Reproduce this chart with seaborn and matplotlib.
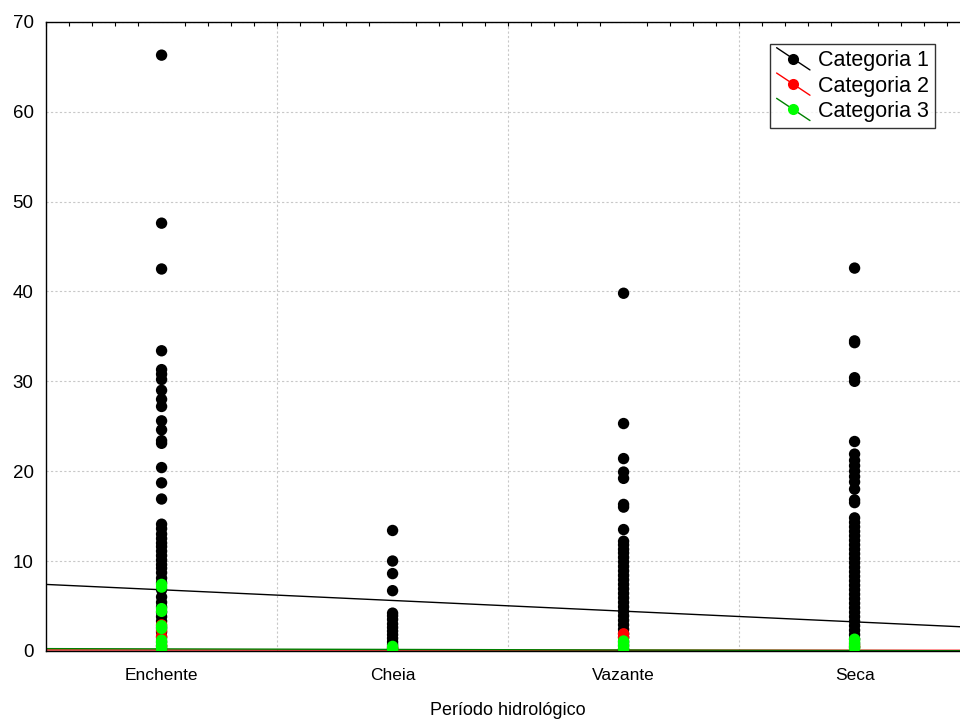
import pandas as pd
import numpy as np
import seaborn as sns
import matplotlib.pyplot as plt
import matplotlib.ticker as ticker
from matplotlib.lines import Line2D
from matplotlib.legend_handler import HandlerLine2D

# Periodos hidrologicos (eje x)
periodos = ['Enchente', 'Cheia', 'Vazante', 'Seca']
categorias = ['Categoria 1', 'Categoria 2', 'Categoria 3']
colores = ['#000000', '#ff0000', '#00ff00']
colores_linea = ['#000000', '#ff0000', '#008000']

# Valores, por periodo y categoria
enchente_cat1 = [66.3, 47.6, 42.5, 33.4, 31.3, 30.8, 30.2, 29.0, 28.0, 27.2, 25.6, 24.6,
                 23.4, 23.1, 20.4, 18.7, 16.9, 14.1, 13.6, 13.0, 12.5, 12.0, 11.6, 11.1,
                 10.6, 10.1, 9.6, 9.2, 8.7, 8.1, 7.6, 6.8, 6.0, 5.4, 4.9, 4.3, 3.8, 3.3,
                 2.6, 2.1, 1.5, 1.0, 0.5, 0.2]
enchente_cat2 = [2.9, 2.3, 1.6, 0.6, 0.2]
enchente_cat3 = [7.4, 7.1, 4.7, 4.4, 2.8, 2.5, 1.2, 0.9, 0.6, 0.3, 0.1]

cheia_cat1 = [13.4, 10.0, 8.6, 6.7, 4.2, 3.9, 3.5, 3.0, 2.6, 2.2, 1.8, 1.4, 1.0, 0.7, 0.4, 0.2]
cheia_cat2 = [0.3]
cheia_cat3 = [0.5, 0.2, 0.1]

vazante_cat1 = [39.8, 25.3, 21.4, 19.9, 19.2, 16.3, 16.0, 13.5, 12.2, 11.8, 11.3, 10.9,
                10.4, 9.9, 9.4, 8.9, 8.4, 7.9, 7.4, 6.9, 6.4, 5.9, 5.4, 4.9, 4.4, 3.9,
                3.4, 2.9, 2.4, 1.9, 1.5, 1.0, 0.6, 0.2]
vazante_cat2 = [1.9, 1.5]
vazante_cat3 = [1.1, 0.8, 0.5, 0.2]

seca_cat1 = [42.6, 34.5, 34.3, 30.4, 30.0, 23.3, 21.9, 21.2, 20.6, 20.0, 19.4, 18.8, 18.0,
             16.8, 16.5, 14.8, 14.3, 13.8, 13.3, 12.8, 12.3, 11.8, 11.3, 10.8, 10.3, 9.8,
             9.3, 8.8, 8.3, 7.8, 7.3, 6.8, 6.3, 5.8, 5.3, 4.8, 4.3, 3.8, 3.3, 2.8, 2.3,
             1.8, 1.3, 0.8, 0.4]
seca_cat2 = [0.5]
seca_cat3 = [1.3, 1.0, 0.6, 0.3]

# Lineas de tendencia (intercepto en Enchente, pendiente por periodo)
tendencia_intercepto = [6.8, 0.1, 0.22]
tendencia_pendiente = [-1.19, -0.01, -0.06]

valores = {
    ('Enchente', 'Categoria 1'): enchente_cat1, ('Enchente', 'Categoria 2'): enchente_cat2,
    ('Enchente', 'Categoria 3'): enchente_cat3, ('Cheia', 'Categoria 1'): cheia_cat1,
    ('Cheia', 'Categoria 2'): cheia_cat2, ('Cheia', 'Categoria 3'): cheia_cat3,
    ('Vazante', 'Categoria 1'): vazante_cat1, ('Vazante', 'Categoria 2'): vazante_cat2,
    ('Vazante', 'Categoria 3'): vazante_cat3, ('Seca', 'Categoria 1'): seca_cat1,
    ('Seca', 'Categoria 2'): seca_cat2, ('Seca', 'Categoria 3'): seca_cat3,
}
filas = []
for (p, c), vals in valores.items():
    for v in vals:
        filas.append({'periodo': p, 'categoria': c, 'valor': v})
datos = pd.DataFrame(filas)


class HandlerDiagonal(HandlerLine2D):
    # Dibuja la linea del legend en diagonal con el punto en el centro
    def create_artists(self, legend, orig_handle, xdescent, ydescent, width, height, fontsize, trans):
        cx = -xdescent + width / 2
        cy = -ydescent + height / 2
        linea = Line2D([-xdescent, -xdescent + width], [cy + 8, cy - 8],
                       color=orig_handle.get_color(), lw=1)
        punto = Line2D([cx], [cy], marker='o', ls='none', ms=orig_handle.get_markersize(),
                       markerfacecolor=orig_handle.get_markerfacecolor(), markeredgewidth=0)
        linea.set_transform(trans)
        punto.set_transform(trans)
        return [linea, punto]


sns.set_style('white')
plt.rcParams['font.family'] = ['Liberation Sans', 'DejaVu Sans']
plt.rcParams['text.color'] = 'black'
plt.rcParams['xtick.color'] = 'black'
plt.rcParams['ytick.color'] = 'black'
plt.rcParams['axes.labelcolor'] = 'black'

fig = plt.figure(figsize=(9.6, 7.2), dpi=100)
ax = fig.add_axes([0.048, 0.096, 0.9625, 0.8736])

# Lineas de tendencia detras de los puntos
xs = np.array([-0.5, 3.5])
for i, c in enumerate(categorias):
    ax.plot(xs, tendencia_intercepto[i] + tendencia_pendiente[i] * xs,
            color=colores_linea[i], lw=1, zorder=1)

sns.stripplot(data=datos, x='periodo', y='valor', hue='categoria', order=periodos,
              hue_order=categorias, palette=colores, jitter=False, dodge=False,
              size=8.2, linewidth=0, legend=False, ax=ax, zorder=3)

ax.set_xlim(-0.5, 3.5)
ax.set_ylim(0, 70)
ax.yaxis.set_major_locator(ticker.MultipleLocator(10))
ax.yaxis.set_minor_locator(ticker.MultipleLocator(2))
ax.xaxis.set_minor_locator(ticker.MultipleLocator(0.1))
ax.set_xticks(range(len(periodos)))
ax.set_xticklabels(periodos, fontsize=12.5)
ax.tick_params(axis='y', labelsize=13.5, pad=9)
ax.tick_params(which='both', direction='in', top=True, right=True, color='black', width=0.8)
ax.tick_params(which='major', length=4)
ax.tick_params(which='minor', length=3)
ax.tick_params(axis='x', which='major', length=0, pad=12)

# Rejilla punteada
ax.yaxis.grid(True, color='#c8c8c8', linestyle=(0, (2, 2)), lw=0.8)
for xg in [0.5, 1.5, 2.5]:
    ax.axvline(xg, color='#c8c8c8', linestyle=(0, (2, 2)), lw=0.8, zorder=0)

for s in ax.spines.values():
    s.set_color('black')
    s.set_linewidth(1)

ax.set_xlabel('Período hidrológico', fontsize=13, labelpad=14)
ax.set_ylabel('')

manejadores = [Line2D([], [], color=colores_linea[i], marker='o', ms=8,
                      markerfacecolor=colores[i]) for i in range(3)]
leyenda = ax.legend(manejadores, categorias, loc='upper right', bbox_to_anchor=(0.962, 0.965),
                    handler_map={Line2D: HandlerDiagonal()}, frameon=True, fancybox=False,
                    edgecolor='black', fontsize=15.5, handlelength=1.55, handletextpad=0.35,
                    labelspacing=0.2, borderpad=0.3, borderaxespad=0)
leyenda.get_frame().set_linewidth(1)

fig.savefig('out.png', dpi=100)
